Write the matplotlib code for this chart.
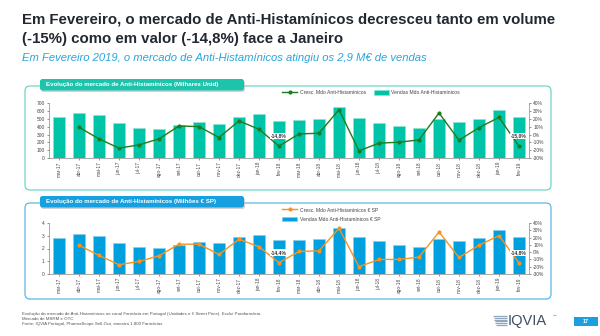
import numpy as np
import matplotlib
matplotlib.use('Agg')
import matplotlib.pyplot as plt
from matplotlib.patches import FancyBboxPatch, Rectangle, Patch
from matplotlib.lines import Line2D
from matplotlib.ticker import FuncFormatter, MultipleLocator

plt.rcParams['font.family'] = ['Liberation Sans', 'DejaVu Sans']

# dados
meses = ['mar-17', 'abr-17', 'mai-17', 'jun-17', 'jul-17', 'ago-17', 'set-17', 'out-17',
         'nov-17', 'dez-17', 'jan-18', 'fev-18', 'mar-18', 'abr-18', 'mai-18', 'jun-18',
         'jul-18', 'ago-18', 'set-18', 'out-18', 'nov-18', 'dez-18', 'jan-19', 'fev-19']

vendas_unid = [525, 570, 545, 450, 390, 370, 420, 455, 440, 524, 563, 478,
               481, 493, 648, 510, 454, 412, 386, 496, 462, 505, 619, 526]
cresc_unid = [np.nan, 9.3, -5.5, -17.4, -13.2, -5.5, 11.0, 10.2, -3.8, 17.4, 6.8, -14.8,
              0.8, 1.7, 31.8, -20.8, -11.0, -9.8, -6.8, 27.6, -7.2, 8.9, 22.0, -15.0]

vendas_valor = [2.84, 3.13, 3.00, 2.45, 2.13, 2.03, 2.26, 2.50, 2.42, 2.87, 3.08, 2.63,
                2.63, 2.71, 3.58, 2.87, 2.55, 2.29, 2.13, 2.76, 2.55, 2.82, 3.42, 2.91]
cresc_valor = [np.nan, 9.5, -4.5, -17.3, -12.7, -5.0, 10.9, 10.9, -3.2, 17.7, 7.3, -14.4,
               0.9, 1.8, 32.7, -20.0, -10.0, -10.0, -6.8, 27.7, -7.3, 9.5, 22.7, -14.8]

# rótulos destacados (índice do mês)
destaque = [11, 23]

W, H = 600, 336
fig = plt.figure(figsize=(6, 3.36), dpi=100)
fig.patch.set_facecolor('white')

# camada de fundo em pixels
bg = fig.add_axes([0, 0, 1, 1], zorder=0)
bg.set_xlim(0, W)
bg.set_ylim(H, 0)
bg.axis('off')

bg.text(22, 24, 'Em Fevereiro, o mercado de Anti-Histamínicos decresceu tanto em volume',
        fontsize=10.8, fontweight='bold', color='#222831', va='baseline')
bg.text(22, 43, '(-15%) como em valor (-14,8%) face a Janeiro',
        fontsize=10.8, fontweight='bold', color='#222831', va='baseline')
bg.text(22, 61, 'Em Fevereiro 2019, o mercado de Anti-Histamínicos atingiu os 2,9 M€ de vendas',
        fontsize=8.1, style='italic', color='#27a6de', va='baseline')


def moldura(y0, y1, cor, cor_tab, titulo):
    bg.add_patch(FancyBboxPatch((25, y0), 526, y1 - y0, boxstyle='round,pad=0,rounding_size=5',
                                fc='none', ec=cor, lw=0.9))
    bg.add_patch(FancyBboxPatch((41, y0 - 5.5), 204, 11.5, boxstyle='round,pad=0,rounding_size=2.5',
                                fc='#b5b5b5', ec='none', alpha=0.6))
    bg.add_patch(FancyBboxPatch((40, y0 - 7), 204, 11.5, boxstyle='round,pad=0,rounding_size=2.5',
                                fc=cor_tab, ec='none'))
    bg.text(46, y0 - 1.2, titulo, fontsize=4.4, fontweight='bold', color='white', va='center')


moldura(86, 190, '#6fd6c6', '#1dc4ab', 'Evolução do mercado de Anti-Histamínicos (Milhares Unid)')
moldura(203, 299, '#5db8e6', '#16a0df', 'Evolução do mercado de Anti-Histamínicos (Milhões € SP)')

# rodapé
rodape = ['Evolução do mercado de Anti-Histamínicos no canal Farmácia em Portugal (Unidades e € Street Price). Exclui Parafarmácia.',
          'Mercado de MSRM e OTC',
          'Fonte: IQVIA Portugal, PharmaScope Sell-Out, amostra 1.800 Farmácias']
for i, linha in enumerate(rodape):
    bg.text(22, 313.5 + i * 5.4, linha, fontsize=3.2, color='#555555', va='center')

# logotipo
for k, yy in enumerate(np.linspace(316, 325, 6)):
    bg.plot([493 + k * 0.6, 507], [yy, yy], color='#8fa6bf', lw=0.9, solid_capstyle='butt')
bg.text(508, 321, 'IQVIA', fontsize=10.5, color='#3d4f63', va='center', fontweight='light')
bg.text(553, 315.5, '™', fontsize=2.5, color='#34495e', va='center')
bg.add_patch(Rectangle((574, 317), 24, 8.5, fc='#1a9fdf', ec='none'))
bg.text(586, 321.3, '17', fontsize=4, color='white', fontweight='bold', ha='center', va='center')


def painel(rect, vendas, cresc, ymax, ystep, cor_bar, cor_borda, cor_lin):
    ax = fig.add_axes(rect, zorder=2)
    ax.patch.set_alpha(0)
    x = np.arange(len(meses))
    barras = ax.bar(x, vendas, width=0.58, color=cor_bar, edgecolor=cor_borda, lw=0.5, zorder=2)
    ax.set_xlim(-0.5, len(meses) - 0.5)
    ax.set_ylim(0, ymax)
    ax.yaxis.set_major_locator(MultipleLocator(ystep))
    ax.set_xticks(x)
    ax.set_xticklabels(meses, rotation=90, fontsize=3.4, color='#444444')
    ax.tick_params(axis='y', labelsize=3.5, colors='#444444', length=1.5, width=0.4, pad=1.5)
    ax.tick_params(axis='x', length=1.5, width=0.4, pad=1.2, colors='#444444')
    for s in ['top', 'right']:
        ax.spines[s].set_visible(False)
    for s in ['left', 'bottom']:
        ax.spines[s].set_color('#888888')
        ax.spines[s].set_linewidth(0.5)

    ax2 = ax.twinx()
    ax2.set_zorder(3)
    ax2.patch.set_alpha(0)
    linha, = ax2.plot(x, cresc, color=cor_lin, lw=1.0, marker='o', ms=2, zorder=4)
    ax2.set_ylim(-30, 40)
    ax2.yaxis.set_major_locator(MultipleLocator(10))
    ax2.yaxis.set_major_formatter(FuncFormatter(lambda v, p: '%d%%' % round(v)))
    ax2.tick_params(axis='y', labelsize=3.5, colors='#444444', length=1.5, width=0.4, pad=1.5)
    for s in ['top', 'left', 'bottom']:
        ax2.spines[s].set_visible(False)
    ax2.spines['right'].set_color('#888888')
    ax2.spines['right'].set_linewidth(0.5)
    for i in destaque:
        ax2.annotate(('%.1f%%' % cresc[i]).replace('.', ','), (x[i], cresc[i]),
                     xytext=(0, 5.5), textcoords='offset points', ha='center', va='bottom',
                     fontsize=3.6, fontweight='bold', color='#333333',
                     bbox=dict(boxstyle='square,pad=0.15', fc='white', ec='none'), zorder=5)
    return ax, ax2, linha, barras


ax_a, ax_a2, lin_a, bar_a = painel([49 / W, 1 - 158 / H, 480 / W, 54.7 / H], vendas_unid, cresc_unid,
                                   700, 100, '#00c4a7', '#8be3d4', '#1b7d1f')
ax_b, ax_b2, lin_b, bar_b = painel([49 / W, 1 - 274 / H, 480 / W, 51 / H], vendas_valor, cresc_valor,
                                   4, 1, '#009fde', '#86cff0', '#f7931e')

h_lin_a = Line2D([], [], color='#1b7d1f', lw=1.0, marker='o', ms=2)
h_bar_a = Patch(fc='#00c4a7', ec='#8be3d4', lw=0.5)
fig.legend([h_lin_a, h_bar_a], ['Cresc. Mdo Anti-Histamínicos', 'Vendas Mdo Anti-Histamínicos'],
           loc='center left', bbox_to_anchor=(282 / W, 1 - 92.5 / H), ncol=2, frameon=False,
           fontsize=3.6, handlelength=3.0, handleheight=1.1, columnspacing=1.6, handletextpad=0.5,
           borderaxespad=0, borderpad=0, labelcolor='#444444')

h_lin_b = Line2D([], [], color='#f7931e', lw=1.0, marker='o', ms=2)
h_bar_b = Patch(fc='#009fde', ec='#86cff0', lw=0.5)
fig.legend([h_lin_b, h_bar_b], ['Cresc. Mdo Anti-Histamínicos € SP', 'Vendas Mdo Anti-Histamínicos € SP'],
           loc='center left', bbox_to_anchor=(282 / W, 1 - 214.5 / H), ncol=1, frameon=False,
           fontsize=3.6, handlelength=3.0, handleheight=1.1, labelspacing=0.8, handletextpad=0.5,
           borderaxespad=0, borderpad=0, labelcolor='#444444')

fig.savefig('out.png', dpi=100)
